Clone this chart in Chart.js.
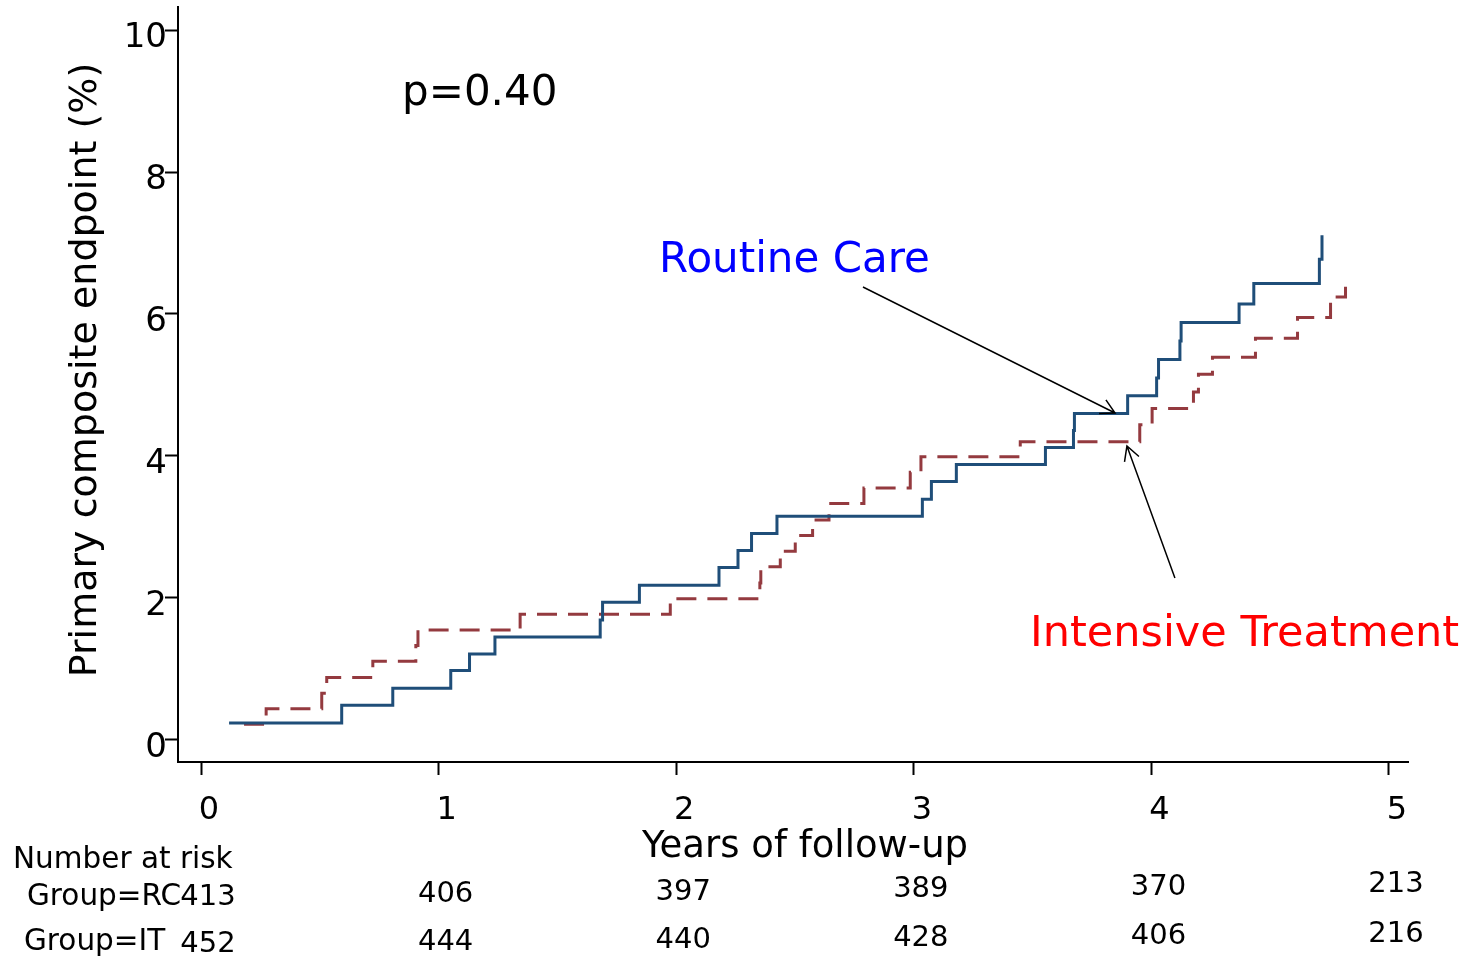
<!DOCTYPE html>
<html>
<head>
<meta charset="utf-8">
<title>Primary composite endpoint</title>
<script src="https://cdn.jsdelivr.net/npm/chart.js@4.4.1/dist/chart.umd.min.js"></script>
<style>
  html, body { margin: 0; padding: 0; background: #fff; }
  #wrap { width: 1465px; height: 957px; }
</style>
</head>
<body>
<div id="wrap"><canvas id="kmChart" width="1465" height="957"></canvas></div>
<script>
// cumulative incidence, event times (years) and percent after each step
const rcTimes = [0.118, 0.592, 0.807, 1.051, 1.130, 1.237, 1.680, 1.690, 1.845, 2.180, 2.260, 2.317, 2.424, 3.036,
  3.074, 3.179, 3.554, 3.672, 3.676, 3.900, 4.022, 4.030, 4.120, 4.125, 4.369, 4.431, 4.707, 4.718];
const rcPct = [0.24, 0.49, 0.73, 0.98, 1.21, 1.45, 1.69, 1.94, 2.18, 2.43, 2.67, 2.91, 3.15, 3.39,
  3.64, 3.88, 4.12, 4.36, 4.60, 4.85, 5.10, 5.36, 5.62, 5.88, 6.14, 6.43, 6.77, 7.11];
const itTimes = [0.181, 0.274, 0.508, 0.529, 0.723, 0.904, 0.913, 1.343, 1.975, 2.352, 2.356, 2.438, 2.501, 2.574,
  2.643, 2.790, 2.985, 3.030, 3.448, 3.951, 4.003, 4.177, 4.198, 4.257, 4.438, 4.615, 4.754, 4.817];
const itPct = [0.22, 0.44, 0.66, 0.88, 1.11, 1.33, 1.55, 1.77, 1.99, 2.21, 2.44, 2.66, 2.88, 3.10,
  3.33, 3.55, 3.77, 3.99, 4.20, 4.44, 4.67, 4.90, 5.15, 5.39, 5.66, 5.95, 6.24, 6.48];

const xTicks = [0, 1, 2, 3, 4, 5];
const yTicks = [0, 2, 4, 6, 8, 10];
const riskYears = [0, 1, 2, 3, 4, 5];
const riskRC = [413, 406, 397, 389, 370, 213];
const riskIT = [452, 444, 440, 428, 406, 216];

const FONT = '"DejaVu Sans", Verdana, sans-serif';
const RC_COLOR = '#1f4e79';
const IT_COLOR = '#943a3f';

const toPoints = (ts, ps) => ts.map((t, i) => ({ x: t, y: ps[i] }));

function text(ctx, str, x, y, size, color, align) {
  ctx.font = size + 'px ' + FONT;
  ctx.fillStyle = color || '#000';
  ctx.textAlign = align || 'left';
  ctx.textBaseline = 'alphabetic';
  ctx.fillText(str, x, y);
}

function arrow(ctx, x0, y0, x1, y1) {
  const ang = Math.atan2(y1 - y0, x1 - x0);
  const len = 16, spread = 0.5;
  ctx.beginPath();
  ctx.moveTo(x0, y0);
  ctx.lineTo(x1, y1);
  ctx.moveTo(x1 - len * Math.cos(ang - spread), y1 - len * Math.sin(ang - spread));
  ctx.lineTo(x1, y1);
  ctx.lineTo(x1 - len * Math.cos(ang + spread), y1 - len * Math.sin(ang + spread));
  ctx.stroke();
}

const annotate = {
  id: 'annotate',
  afterDraw(chart) {
    const { ctx, chartArea } = chart;
    const x = chart.scales.x, y = chart.scales.y;
    ctx.save();

    // labels inside the plot
    text(ctx, 'p=0.40', x.getPixelForValue(0.846), y.getPixelForValue(8.94), 42);
    text(ctx, 'Routine Care', x.getPixelForValue(1.928), y.getPixelForValue(6.59), 42, '#0000ff');
    text(ctx, 'Intensive Treatment', x.getPixelForValue(3.489), y.getPixelForValue(1.32), 43, '#ff0000');

    ctx.strokeStyle = '#000';
    ctx.lineWidth = 1.5;
    arrow(ctx, x.getPixelForValue(2.786), y.getPixelForValue(6.38), x.getPixelForValue(3.847), y.getPixelForValue(4.606));
    arrow(ctx, x.getPixelForValue(4.099), y.getPixelForValue(2.282), x.getPixelForValue(3.897), y.getPixelForValue(4.141));

    // axis titles
    ctx.save();
    ctx.translate(96, 370);
    ctx.rotate(-Math.PI / 2);
    text(ctx, 'Primary composite endpoint (%)', 0, 0, 38, '#000', 'center');
    ctx.restore();
    text(ctx, 'Years of follow-up', 805, chartArea.bottom + 95, 37, '#000', 'center');

    // number at risk table
    text(ctx, 'Number at risk', 13, 868, 29.5);
    text(ctx, 'Group=RC', 27, 905, 29.5);
    text(ctx, 'Group=IT', 24, 950, 29.5);
    riskYears.forEach((yr, k) => {
      const px = x.getPixelForValue(yr) + 7;
      text(ctx, String(riskRC[k]), px, 905 - 2.6 * k, 29, '#000', 'center');
      text(ctx, String(riskIT[k]), px, 952 - 2 * k, 29, '#000', 'center');
    });

    ctx.restore();
  }
};

const axisGrid = {
  display: true,
  drawOnChartArea: false,
  drawTicks: true,
  tickLength: 13,
  tickWidth: 2,
  tickColor: '#000'
};
const axisBorder = { display: true, color: '#000', width: 2 };

new Chart(document.getElementById('kmChart'), {
  type: 'line',
  data: {
    datasets: [
      {
        label: 'Routine Care',
        data: toPoints(rcTimes, rcPct),
        borderColor: RC_COLOR,
        borderWidth: 3,
        stepped: 'before',
        pointRadius: 0,
        fill: false
      },
      {
        label: 'Intensive Treatment',
        data: toPoints(itTimes, itPct),
        borderColor: IT_COLOR,
        borderWidth: 3,
        borderDash: [20, 11],
        stepped: 'before',
        pointRadius: 0,
        fill: false
      }
    ]
  },
  options: {
    responsive: false,
    animation: false,
    devicePixelRatio: 1,
    layout: { padding: { left: 0, top: 7, right: 57, bottom: 0 }, autoPadding: false },
    plugins: { legend: { display: false }, tooltip: { enabled: false } },
    scales: {
      x: {
        type: 'linear',
        min: -0.097,
        max: 5.08,
        afterBuildTicks: s => { s.ticks = xTicks.map(v => ({ value: v })); },
        afterFit: s => { s.height = 195; s.paddingLeft = 0; s.paddingRight = 0; },
        grid: axisGrid,
        border: axisBorder,
        ticks: {
          color: '#000',
          font: { family: FONT, size: 32 },
          padding: 16,
          labelOffset: 8,
          maxRotation: 0,
          autoSkip: false
        }
      },
      y: {
        type: 'linear',
        min: -0.31,
        max: 10.324,
        afterBuildTicks: s => { s.ticks = yTicks.map(v => ({ value: v })); },
        afterFit: s => { s.width = 178; s.paddingTop = 0; s.paddingBottom = 0; },
        grid: axisGrid,
        border: axisBorder,
        ticks: {
          color: '#000',
          font: { family: FONT, size: 34 },
          padding: -2,
          labelOffset: 8,
          autoSkip: false
        }
      }
    }
  },
  plugins: [annotate]
});
</script>
</body>
</html>
